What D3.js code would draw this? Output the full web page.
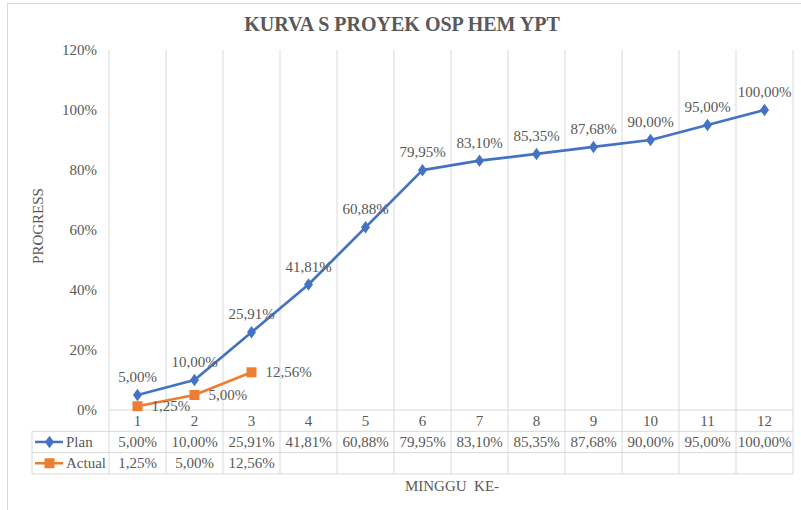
<!DOCTYPE html>
<html><head><meta charset="utf-8">
<script src="https://cdn.jsdelivr.net/npm/d3@7/dist/d3.min.js"></script>
<style>
body{margin:0;background:#fff;}
</style></head>
<body><svg id="c" width="801" height="510"></svg>
<script>
const categories = ["1","2","3","4","5","6","7","8","9","10","11","12"];
const planValues = [5.00,10.00,25.91,41.81,60.88,79.95,83.10,85.35,87.68,90.00,95.00,100.00];
const actualValues = [1.25,5.00,12.56];
const yTicks = [0,20,40,60,80,100,120];
const seriesNames = ["Plan","Actual"];
const chartTitle = "KURVA S PROYEK OSP HEM YPT";
const yTitle = "PROGRESS";
const xTitle = "MINGGU  KE-";

const loc = d3.formatLocale({decimal:",",thousands:".",grouping:[3],currency:["",""]});
const fmt = v => loc.format(".2f")(v) + "%";

const FONT = "'Liberation Serif', Tinos, 'Times New Roman', 'DejaVu Serif', serif";
const svg = d3.select("#c").attr("font-family", FONT);
const grey = "#595959", grid = "#d9d9d9";
const blue = "#4472C4", orange = "#ED7D31";
const pLeft = 109, pRight = 793, pTop = 50, pBottom = 410;
const rowH = 21.3;

// outer frame
svg.append("rect").attr("x",7.5).attr("y",3.5).attr("width",800).attr("height",520)
  .attr("fill","none").attr("stroke",grid);

const x = d3.scaleBand().domain(categories).range([pLeft,pRight]);
const y = d3.scaleLinear().domain([0,120]).range([pBottom,pTop]);

// title
svg.append("text").attr("x",402).attr("y",31).attr("text-anchor","middle")
  .attr("font-size",20).attr("font-weight","bold").attr("fill",grey).text(chartTitle);

// y axis labels
const yAxis = d3.axisLeft(y).tickValues(yTicks).tickFormat(d=>d+"%").tickSize(0).tickPadding(12);
const ga = svg.append("g").attr("transform",`translate(${pLeft},0)`).call(yAxis);
ga.attr("font-family", FONT).attr("font-size",15);
ga.select(".domain").remove();
ga.selectAll("text").attr("fill",grey);

// vertical gridlines (category boundaries) from top through table
const tableBottom = pBottom + rowH*3;
const bounds = categories.map(c=>x(c)).concat([pRight]);
svg.append("g").selectAll("line").data(bounds).join("line")
  .attr("x1",d=>d).attr("x2",d=>d).attr("y1",pTop).attr("y2",tableBottom)
  .attr("stroke",grid).attr("stroke-width",1);

// table horizontal lines
const tableLeft = 32;
svg.append("line").attr("x1",pLeft).attr("x2",pRight).attr("y1",pBottom).attr("y2",pBottom).attr("stroke",grid);
[1,2,3].forEach(i=>{
  svg.append("line").attr("x1",tableLeft).attr("x2",pRight)
    .attr("y1",pBottom+rowH*i).attr("y2",pBottom+rowH*i).attr("stroke",grid);
});
svg.append("line").attr("x1",tableLeft).attr("x2",tableLeft)
  .attr("y1",pBottom+rowH).attr("y2",tableBottom).attr("stroke",grid);

// category labels
svg.append("g").selectAll("text").data(categories).join("text")
  .attr("x",d=>x(d)+x.bandwidth()/2).attr("y",pBottom+rowH/2+5)
  .attr("text-anchor","middle").attr("font-size",15).attr("fill",grey).text(d=>d);

// table values
const rows = [planValues, actualValues];
rows.forEach((vals,r)=>{
  svg.append("g").selectAll("text").data(vals).join("text")
    .attr("x",(d,i)=>x(categories[i])+x.bandwidth()/2)
    .attr("y",pBottom+rowH*(r+1)+rowH/2+5)
    .attr("text-anchor","middle").attr("font-size",15).attr("fill",grey).text(d=>fmt(d));
});

// legend keys in table
const diamond = d3.symbol().type(d3.symbolDiamond).size(45);
const square = d3.symbol().type(d3.symbolSquare).size(100);
const keyY = [pBottom+rowH*1.5, pBottom+rowH*2.5];
[blue,orange].forEach((col,i)=>{
  svg.append("line").attr("x1",35).attr("x2",63).attr("y1",keyY[i]).attr("y2",keyY[i])
    .attr("stroke",col).attr("stroke-width",2.5);
  svg.append("path").attr("d",i===0?diamond():square())
    .attr("transform",`translate(49.5,${keyY[i]})${i===0?" scale(1.25,1)":""}`).attr("fill",col);
  svg.append("text").attr("x",66).attr("y",keyY[i]+5).attr("font-size",15).attr("fill",grey).text(seriesNames[i]);
});

// lines
const line = d3.line().x((d,i)=>x(categories[i])+x.bandwidth()/2).y(d=>y(d));
svg.append("path").datum(planValues).attr("d",line).attr("fill","none")
  .attr("stroke",blue).attr("stroke-width",2.75).attr("stroke-linejoin","round");
svg.append("path").datum(actualValues).attr("d",line).attr("fill","none")
  .attr("stroke",orange).attr("stroke-width",2.75).attr("stroke-linejoin","round");

// markers
svg.append("g").selectAll("path").data(planValues).join("path")
  .attr("d",diamond).attr("fill",blue)
  .attr("transform",(d,i)=>`translate(${x(categories[i])+x.bandwidth()/2},${y(d)}) scale(1.25,1)`);
svg.append("g").selectAll("path").data(actualValues).join("path")
  .attr("d",square).attr("fill",orange)
  .attr("transform",(d,i)=>`translate(${x(categories[i])+x.bandwidth()/2},${y(d)})`);

// data labels
svg.append("g").selectAll("text").data(planValues).join("text")
  .attr("x",(d,i)=>x(categories[i])+x.bandwidth()/2).attr("y",d=>y(d)-13)
  .attr("text-anchor","middle").attr("font-size",15).attr("fill",grey).text(d=>fmt(d));
svg.append("g").selectAll("text").data(actualValues).join("text")
  .attr("x",(d,i)=>x(categories[i])+x.bandwidth()/2+14).attr("y",d=>y(d)+5)
  .attr("text-anchor","start").attr("font-size",15).attr("fill",grey).text(d=>fmt(d));

// axis titles
svg.append("text").attr("transform","translate(43,226) rotate(-90)").attr("text-anchor","middle")
  .attr("font-size",15).attr("fill",grey).text(yTitle);
svg.append("text").attr("x",452).attr("y",491).attr("text-anchor","middle")
  .attr("font-size",15).attr("fill",grey).style("white-space","pre").text(xTitle);
</script></body></html>
